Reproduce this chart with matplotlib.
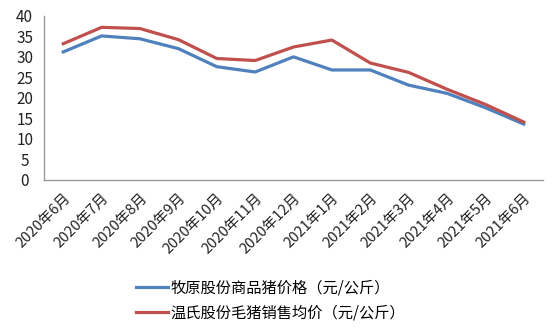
import numpy as np
import matplotlib
matplotlib.use('Agg')
import matplotlib.pyplot as plt

plt.rcParams['font.family'] = ['Noto Sans CJK SC', 'DejaVu Sans']

months = ['2020年6月', '2020年7月', '2020年8月', '2020年9月', '2020年10月', '2020年11月',
          '2020年12月', '2021年1月', '2021年2月', '2021年3月', '2021年4月', '2021年5月',
          '2021年6月']
muyuan = [31.2, 35.1, 34.4, 32.0, 27.6, 26.3, 30.0, 26.8, 26.8, 23.1, 21.1, 17.6, 13.6]
wens = [33.2, 37.2, 36.9, 34.2, 29.6, 29.1, 32.4, 34.1, 28.5, 26.2, 22.1, 18.4, 14.1]
labels = ['牧原股份商品猪价格（元/公斤）', '温氏股份毛猪销售均价（元/公斤）']

fig = plt.figure(figsize=(5.58, 3.3), dpi=100)
ax = fig.add_axes([0.079, 0.455, 0.894, 0.497])

x = np.arange(len(months))
ax.plot(x, muyuan, color='#4F81BD', lw=2.3, label=labels[0])
ax.plot(x, wens, color='#C0504D', lw=2.3, label=labels[1])

ax.set_xlim(-0.5, len(months) - 0.5)
ax.set_ylim(0, 40)
ax.set_yticks(range(0, 41, 5))
ax.set_xticks(x)
ax.set_xticklabels(months, rotation=45, ha='right', rotation_mode='anchor')
ax.tick_params(axis='both', length=0, colors='#222222')
ax.tick_params(axis='x', pad=8, labelsize=10.5)
ax.tick_params(axis='y', pad=14, labelsize=11)
for lab in ax.get_yticklabels():
    lab.set_horizontalalignment('center')

for s in ['top', 'right']:
    ax.spines[s].set_visible(False)
for s in ['left', 'bottom']:
    ax.spines[s].set_color('#999999')
    ax.spines[s].set_linewidth(1)

fig.legend(loc='center', bbox_to_anchor=(0.485, 0.09), frameon=False, fontsize=11,
           handlelength=2.1, handletextpad=0.2, labelspacing=0.5)

fig.savefig('out.png', dpi=100)
